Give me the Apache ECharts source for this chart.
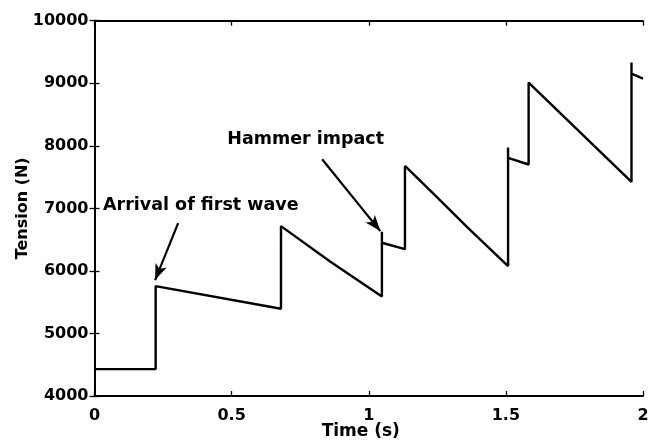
<!DOCTYPE html>
<html>
<head>
<meta charset="utf-8">
<script src="https://cdn.jsdelivr.net/npm/echarts@6/dist/echarts.min.js"></script>
<style>html,body{margin:0;padding:0;background:#fff}#c{width:650px;height:441px}</style>
</head>
<body>
<div id="c"></div>
<script>
// Time (s) and tension (N)
const timeS   = [0, 0.223, 0.223, 0.68, 0.68, 0.859, 1.048, 1.048, 1.048, 1.132, 1.132, 1.2365, 1.358, 1.508, 1.508, 1.508, 1.583, 1.583, 1.77, 1.958, 1.958, 1.958, 2.0];
const tension = [4430, 4430, 5757, 5395, 6716, 6150, 5590, 6625, 6450, 6348, 7679, 7232, 6705, 6077, 7973, 7807, 7701, 9011, 8220, 7423, 9330, 9155, 9075];
const xTicks = [0, 0.5, 1, 1.5, 2];
const yTicks = [4000, 5000, 6000, 7000, 8000, 9000, 10000];
const annotations = [
  {text: 'Arrival of first wave', at: [0.031, 7051], arrowFrom: [0.305, 6764], arrowTo: [0.221, 5853]},
  {text: 'Hammer impact',         at: [0.484, 8105], arrowFrom: [0.830, 7786], arrowTo: [1.042, 6636]}
];

const FONT = 'DejaVu Sans';
const chart = echarts.init(document.getElementById('c'), null, {renderer: 'canvas'});
const axisBase = {
  axisLine: {show: true, lineStyle: {color: '#000', width: 1.8}},
  axisTick: {show: true, inside: true, length: 5, lineStyle: {color: '#000', width: 1.3}},
  splitLine: {show: false}
};
const xCommon = Object.assign({}, axisBase, {type: 'value', min: xTicks[0], max: xTicks[xTicks.length - 1], interval: xTicks[1] - xTicks[0]});
const yCommon = Object.assign({}, axisBase, {type: 'value', min: yTicks[0], max: yTicks[yTicks.length - 1], interval: yTicks[1] - yTicks[0]});
const fmt = v => String(Math.round(v * 1000) / 1000);

chart.setOption({
  animation: false,
  backgroundColor: '#fff',
  grid: {left: 94.5, right: 7, top: 20.7, bottom: 45, containLabel: false, outerBoundsMode: 'none'},
  xAxis: [
    Object.assign({}, xCommon, {
      position: 'bottom',
      name: 'Time (s)', nameLocation: 'middle', nameGap: 27, nameMoveOverlap: false,
      nameTextStyle: {fontFamily: FONT, fontWeight: 'bold', fontSize: 17, color: '#000', padding: [0, 16, 0, 0]},
      axisLabel: {show: true, margin: 12, fontFamily: FONT, fontWeight: 'bold', fontSize: 16, color: '#000', formatter: fmt}
    }),
    Object.assign({}, xCommon, {position: 'top', axisLabel: {show: false}})
  ],
  yAxis: [
    Object.assign({}, yCommon, {
      position: 'left',
      name: 'Tension (N)', nameLocation: 'middle', nameGap: 64, nameMoveOverlap: false,
      nameTextStyle: {fontFamily: FONT, fontWeight: 'bold', fontSize: 16, color: '#000'},
      axisLabel: {show: true, margin: 6, fontFamily: FONT, fontWeight: 'bold', fontSize: 16, color: '#000', formatter: fmt}
    }),
    Object.assign({}, yCommon, {position: 'right', axisLabel: {show: false}})
  ],
  series: [{
    type: 'line',
    data: timeS.map((t, i) => [t, tension[i]]),
    showSymbol: false,
    symbol: 'none',
    lineStyle: {color: '#000', width: 2.4},
    clip: false,
    markLine: {
      silent: true,
      symbol: ['none', 'arrow'],
      symbolSize: [9, 16],
      lineStyle: {color: '#000', width: 2.2, type: 'solid'},
      label: {show: false},
      data: annotations.map(a => [{coord: a.arrowFrom}, {coord: a.arrowTo}])
    },
    markPoint: {
      silent: true,
      symbol: 'circle',
      symbolSize: 0,
      data: annotations.map(a => ({
        coord: a.at,
        label: {show: true, position: 'right', distance: 0, formatter: a.text,
          fontFamily: FONT, fontWeight: 'bold', fontSize: 17.5, color: '#000'}
      }))
    }
  }]
});
</script>
</body>
</html>
